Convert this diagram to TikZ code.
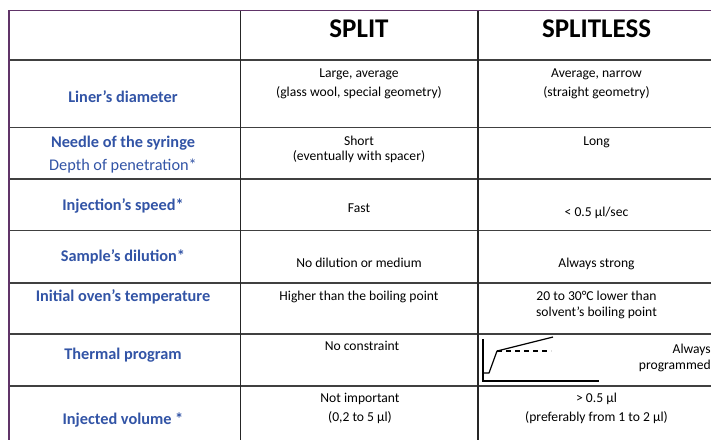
\documentclass[tikz,border=0pt]{standalone}
\usepackage{fontspec}
\newfontfamily\calib{Carlito}
\definecolor{labblue}{RGB}{50,84,166}
\definecolor{framepurple}{RGB}{96,52,104}
\definecolor{rulegray}{RGB}{64,64,64}
\newcommand\hdrfont{\calib\bfseries\fontsize{27}{32}\selectfont}
\newcommand\labfont{\calib\bfseries\fontsize{16.3}{19}\selectfont}
\newcommand\labregfont{\calib\fontsize{16.3}{19}\selectfont}
\newcommand\cellfont{\calib\fontsize{13.6}{16}\selectfont}
\tikzset{
  hdr/.style={font=\hdrfont, text=black, inner sep=0pt, anchor=base},
  lab/.style={font=\labfont, text=labblue, inner sep=0pt, anchor=base},
  labreg/.style={font=\labregfont, text=labblue, inner sep=0pt, anchor=base},
  cell/.style={font=\cellfont, text=black, inner sep=0pt, anchor=base},
  cellr/.style={font=\cellfont, text=black, inner sep=0pt, anchor=base east},
  frame/.style={draw=framepurple, line width=1.1pt},
  rowrule/.style={draw=rulegray, line width=1.9pt},
  colrule/.style={draw=black!85, line width=1.4pt},
  plotline/.style={draw=black, line width=1.2pt},
  plotdash/.style={draw=black, line width=1.1pt, dash pattern=on 5pt off 4pt}
}
\begin{document}
\begin{tikzpicture}[x=1pt,y=-1pt]
\clip (0,0) rectangle (711,439);
\fill[white] (0,0) rectangle (711,439);
% row rules
\foreach \yy in {60,127.5,179,230.5,282.7,334,385.7}
  \draw[rowrule] (9,\yy) -- (720,\yy);
% column rules
\draw[colrule] (240.5,10.5) -- (240.5,445);
\draw[colrule] (478,10.5) -- (478,445);
% frame
\draw[frame] (9,445) -- (9,10.5) -- (720,10.5);

% headers
\node[hdr] (hsplit) at (359,37) {SPLIT};
\node[hdr] (hsplitless) at (596.5,37) {SPLITLESS};

% labels
\node[lab] (l1) at (123,102) {Liner’s diameter};
\node[lab] (l2a) at (123,147) {Needle of the syringe};
\node[labreg] (l2b) at (123,170) {Depth of penetration*};
\node[lab] (l3) at (123,210) {Injection’s speed*};
\node[lab] (l4) at (123,261) {Sample’s dilution*};
\node[lab] (l5) at (123,301) {Initial oven’s temperature};
\node[lab] (l6) at (123,359) {Thermal program};
\node[lab] (l7) at (123,424) {Injected volume *};

% split column
\node[cell] (s1a) at (359,77.3) {Large, average};
\node[cell] (s1b) at (359,96) {(glass wool, special geometry)};
\node[cell] (s2a) at (359,145) {Short};
\node[cell] (s2b) at (359,160.7) {(eventually with spacer)};
\node[cell] (s3) at (359,212.3) {Fast};
\node[cell] (s4) at (359,267.3) {No dilution or medium};
\node[cell] (s5) at (359,300) {Higher than the boiling point};
\node[cell] (s6) at (362,350) {No constraint};
\node[cell] (s7a) at (360,402.7) {Not important};
\node[cell] (s7b) at (360,421.7) {(0,2 to 5 µl)};

% splitless column
\node[cell] (t1a) at (596.5,77.3) {Average, narrow};
\node[cell] (t1b) at (596.5,96) {(straight geometry)};
\node[cell] (t2) at (596.5,145) {Long};
\node[cell] (t3) at (596.5,216.7) {< 0.5 µl/sec};
\node[cell] (t4) at (596.5,267.3) {Always strong};
\node[cell] (t5a) at (596.5,300) {20 to 30°C lower than};
\node[cell] (t5b) at (596.5,316) {solvent’s boiling point};
\node[cellr] (t6a) at (711,353.3) {Always};
\node[cellr] (t6b) at (711,369) {programmed};
\node[cell] (t7a) at (596.5,402.7) {> 0.5 µl};
\node[cell] (t7b) at (596.5,421.7) {(preferably from 1 to 2 µl)};

% thermal program sketch
\coordinate (ax0) at (483,339);
\coordinate (axo) at (483,381);
\coordinate (ax1) at (599,381);
\coordinate (p0) at (483,373);
\coordinate (p1) at (489,373);
\coordinate (p2) at (497,351);
\coordinate (p3) at (553,337);
\coordinate (d1) at (551,351);
\draw[plotline] (ax0) -- (axo) -- (ax1);
\draw[plotline, line join=round] (p0) -- (p1) -- (p2) -- (p3);
\draw[plotdash] (p2) -- (d1);
\end{tikzpicture}
\end{document}
